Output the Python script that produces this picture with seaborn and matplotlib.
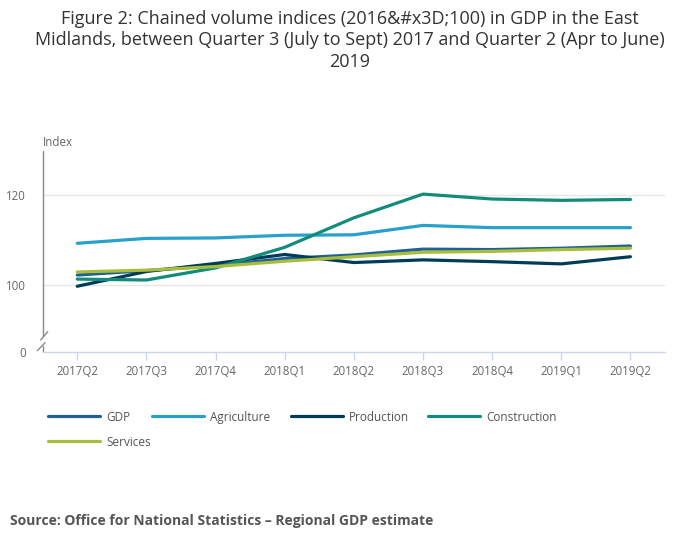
import matplotlib
matplotlib.use("Agg")
import matplotlib.pyplot as plt
from matplotlib.lines import Line2D
import seaborn as sns
import pandas as pd

quarters = ["2017Q2", "2017Q3", "2017Q4", "2018Q1", "2018Q2",
            "2018Q3", "2018Q4", "2019Q1", "2019Q2"]
gdp = [102.2, 103.2, 104.3, 105.9, 106.7, 108.0, 107.9, 108.2, 108.7]
agriculture = [109.3, 110.4, 110.5, 111.1, 111.2, 113.3, 112.8, 112.8, 112.8]
production = [99.7, 103.0, 104.8, 106.8, 105.0, 105.6, 105.2, 104.7, 106.3]
construction = [101.3, 101.1, 103.8, 108.4, 115.0, 120.3, 119.2, 118.9, 119.1]
services = [102.9, 103.3, 104.1, 105.3, 106.3, 107.3, 107.5, 107.9, 108.2]

series_names = ["GDP", "Agriculture", "Production", "Construction", "Services"]
series_values = [gdp, agriculture, production, construction, services]
colors = ["#206095", "#27a0cc", "#003c57", "#118c7b", "#a8bd3a"]

ytick_values = [85, 100, 120]
ytick_labels = ["0", "100", "120"]

title = ("Figure 2: Chained volume indices (2016&#x3D;100) in GDP in the East\n"
         "Midlands, between Quarter 3 (July to Sept) 2017 and Quarter 2 (Apr to June)\n"
         "2019")
source = "Source: Office for National Statistics \u2013 Regional GDP estimate"

rows = []
for name, vals in zip(series_names, series_values):
    for q, v in zip(quarters, vals):
        rows.append({"Quarter": q, "Series": name, "Index": v})
df = pd.DataFrame(rows)

sns.set_theme(style="white")
plt.rcParams["font.family"] = ["Open Sans", "DejaVu Sans"]

fig = plt.figure(figsize=(7.0, 5.49), dpi=100)
ax = fig.add_axes([0.061, 0.3588, 0.889, 0.3667])

palette = dict(zip(series_names, colors))
sns.lineplot(data=df, x="Quarter", y="Index", hue="Series", hue_order=series_names,
             palette=palette, linewidth=2.3, ax=ax, legend=False, sort=False)

ax.set_xlim(-0.5, len(quarters) - 0.5)
ax.set_ylim(85, 130)
ax.set_yticks(ytick_values)
ax.set_yticklabels(ytick_labels)
ax.set_xlabel("")
ax.set_ylabel("")

for gv in [100, 120]:
    ax.axhline(gv, color="#e6e6e6", linewidth=1, zorder=0)

for s in ["top", "right", "left"]:
    ax.spines[s].set_visible(False)
ax.spines["bottom"].set_color("#ccd6eb")
ax.spines["bottom"].set_linewidth(1)

ax.tick_params(axis="x", length=6, width=1, color="#ccd6eb", labelsize=8.3,
               labelcolor="#666666", pad=3, bottom=True)
ax.tick_params(axis="y", length=0, labelsize=8.3, labelcolor="#666666", pad=12)

# broken y axis line
ax.add_line(Line2D([0, 0], [0.08, 1.0], transform=ax.transAxes, color="#888888",
                   linewidth=1, clip_on=False))
ax.add_line(Line2D([0, 0], [0.0, 0.03], transform=ax.transAxes, color="#888888",
                   linewidth=1, clip_on=False))
ax.add_line(Line2D([0.008, -0.0032], [0.101, 0.06], transform=ax.transAxes,
                   color="#888888", linewidth=1, clip_on=False))
ax.add_line(Line2D([0.0037, -0.0087], [0.046, 0.0065], transform=ax.transAxes,
                   color="#888888", linewidth=1, clip_on=False))

fig.text(43 / 700, 1 - 143 / 549, "Index", fontsize=8.3, color="#666666",
         ha="left", va="center")

fig.text(0.5, 1 - 10 / 549, title, ha="center", va="top", fontsize=13.0,
         color="#333333", linespacing=1.24)

# legend
legend_pos = [(48, 416), (152, 416), (291, 416), (428, 416), (48, 441)]
for (px, py), name, c in zip(legend_pos, series_names, colors):
    yf = 1 - py / 549
    fig.add_artist(Line2D([px / 700, (px + 52) / 700], [yf, yf], color=c,
                          linewidth=2.3, transform=fig.transFigure))
    fig.text((px + 58) / 700, yf, name, fontsize=8.5, color="#555555",
             ha="left", va="center_baseline")

fig.text(10 / 700, 1 - 521 / 549, source, fontsize=10, fontweight="bold",
         color="#555555", ha="left", va="center")

fig.savefig("out.png", dpi=100)
